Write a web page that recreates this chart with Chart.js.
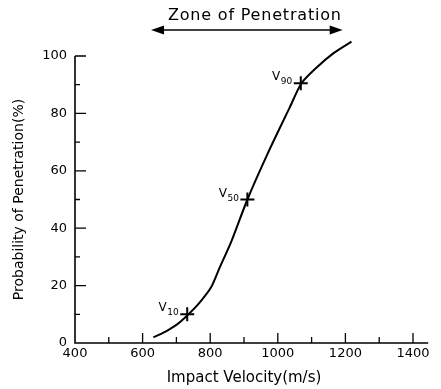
<!DOCTYPE html>
<html>
<head>
<meta charset="utf-8">
<title>Probability of Penetration</title>
<script src="https://cdn.jsdelivr.net/npm/chart.js@4"></script>
<style>
  html, body { margin: 0; padding: 0; background: #ffffff; }
  #wrap { width: 441px; height: 389px; }
</style>
</head>
<body>
<div id="wrap"><canvas id="chart" width="441" height="389"></canvas></div>
<script>
// Data
const velocity = [632, 665, 700, 732, 768, 803, 827, 863, 910, 970, 1035, 1070, 1115, 1165, 1218];
const probability = [2, 3.8, 6.3, 9.6, 14, 19.5, 26, 35.5, 50, 66, 82, 90.5, 96, 101, 105];

// Marked points V10, V50, V90
const markVelocity = [732, 910, 1068];
const markProbability = [10, 50, 90.5];
const markSubscripts = ['10', '50', '90'];

// Axis ticks
const xTickLabels = [400, 600, 800, 1000, 1200, 1400];
const xMinorTicks = [500, 700, 900, 1100, 1300];
const yTickLabels = [0, 20, 40, 60, 80, 100];
const yMinorTicks = [10, 30, 50, 70, 90];
const xAxisEnd = 1445;

// Zone of penetration arrow
const zoneStart = 625;
const zoneEnd = 1192;
const zoneLabel = 'Zone of Penetration';

const FONT = 'DejaVu Sans';
const INK = '#000000';

// Draws the axis lines, inward ticks, the V labels and the zone arrow
const decorPlugin = {
    id: 'decor',
    afterDatasetsDraw(chart) {
        const ctx = chart.ctx;
        const x = chart.scales.x;
        const y = chart.scales.y;
        const left = x.getPixelForValue(xTickLabels[0]);
        const bottom = y.getPixelForValue(0);

        ctx.save();
        ctx.strokeStyle = INK;
        ctx.lineWidth = 1.6;
        ctx.lineCap = 'butt';

        // axis lines
        ctx.beginPath();
        ctx.moveTo(left, y.getPixelForValue(100));
        ctx.lineTo(left, bottom);
        ctx.lineTo(x.getPixelForValue(xAxisEnd), bottom);
        ctx.stroke();

        // y ticks point right
        ctx.lineWidth = 1.3;
        ctx.beginPath();
        yTickLabels.slice(1).forEach(v => {
            const py = y.getPixelForValue(v);
            ctx.moveTo(left, py);
            ctx.lineTo(left + 11, py);
        });
        yMinorTicks.forEach(v => {
            const py = y.getPixelForValue(v);
            ctx.moveTo(left, py);
            ctx.lineTo(left + 5, py);
        });
        // x ticks point up
        xTickLabels.slice(1).forEach(v => {
            const px = x.getPixelForValue(v);
            ctx.moveTo(px, bottom);
            ctx.lineTo(px, bottom - 10);
        });
        xMinorTicks.forEach(v => {
            const px = x.getPixelForValue(v);
            ctx.moveTo(px, bottom);
            ctx.lineTo(px, bottom - 6);
        });
        ctx.stroke();

        // V labels with subscripts
        ctx.fillStyle = INK;
        ctx.textBaseline = 'alphabetic';
        markVelocity.forEach((v, i) => {
            const px = x.getPixelForValue(v);
            const py = y.getPixelForValue(markProbability[i]);
            ctx.font = '12px "' + FONT + '"';
            const wV = ctx.measureText('V').width;
            ctx.font = '9px "' + FONT + '"';
            const wS = ctx.measureText(markSubscripts[i]).width;
            const start = px - 9 - wV - wS;
            ctx.font = '12px "' + FONT + '"';
            ctx.fillText('V', start, py - 3);
            ctx.font = '9px "' + FONT + '"';
            ctx.fillText(markSubscripts[i], start + wV + 0.5, py + 1);
        });

        // zone arrow
        const ax1 = x.getPixelForValue(zoneStart);
        const ax2 = x.getPixelForValue(zoneEnd);
        const ay = 30;
        ctx.lineWidth = 1.5;
        ctx.beginPath();
        ctx.moveTo(ax1 + 8, ay);
        ctx.lineTo(ax2 - 8, ay);
        ctx.stroke();
        ctx.beginPath();
        ctx.moveTo(ax1, ay);
        ctx.lineTo(ax1 + 13, ay - 4.5);
        ctx.lineTo(ax1 + 13, ay + 4.5);
        ctx.closePath();
        ctx.moveTo(ax2, ay);
        ctx.lineTo(ax2 - 13, ay - 4.5);
        ctx.lineTo(ax2 - 13, ay + 4.5);
        ctx.closePath();
        ctx.fill();

        ctx.font = '16px "' + FONT + '"';
        ctx.letterSpacing = '0.8px';
        ctx.textAlign = 'center';
        ctx.textBaseline = 'middle';
        ctx.fillText(zoneLabel, (ax1 + ax2) / 2 + 8, 16);
        ctx.restore();
    }
};

new Chart(document.getElementById('chart'), {
    type: 'line',
    data: {
        datasets: [{
            data: velocity.map((v, i) => ({ x: v, y: probability[i] })),
            borderColor: INK,
            borderWidth: 2,
            pointRadius: 0,
            tension: 0.25,
            fill: false,
            clip: false
        }, {
            data: markVelocity.map((v, i) => ({ x: v, y: markProbability[i] })),
            showLine: false,
            pointStyle: 'cross',
            pointRadius: 7,
            borderColor: INK,
            borderWidth: 2,
            clip: false
        }]
    },
    options: {
        responsive: false,
        animation: false,
        layout: { padding: { left: 0, right: 28, top: 56, bottom: 0 } },
        plugins: {
            legend: { display: false },
            tooltip: { enabled: false }
        },
        scales: {
            x: {
                type: 'linear',
                min: 400,
                max: 1400,
                afterBuildTicks: s => { s.ticks = xTickLabels.map(v => ({ value: v })); },
                afterFit: s => { s.height = 46; },
                grid: { display: false, drawTicks: false },
                border: { display: false },
                ticks: {
                    color: INK,
                    padding: 3,
                    maxRotation: 0,
                    font: { family: FONT, size: 13 },
                    callback: v => String(v)
                },
                title: {
                    display: true,
                    text: 'Impact Velocity(m/s)',
                    color: INK,
                    padding: { top: 0, bottom: 2 },
                    font: { family: FONT, size: 15 }
                }
            },
            y: {
                min: 0,
                max: 100,
                afterBuildTicks: s => { s.ticks = yTickLabels.map(v => ({ value: v })); },
                afterFit: s => { s.width = 75; },
                grid: { display: false, drawTicks: false },
                border: { display: false },
                ticks: {
                    color: INK,
                    padding: 8,
                    font: { family: FONT, size: 13 },
                    callback: v => String(v)
                },
                title: {
                    display: true,
                    text: 'Probability of Penetration(%)',
                    color: INK,
                    padding: { top: 11, bottom: 0 },
                    font: { family: FONT, size: 14 }
                }
            }
        }
    },
    plugins: [decorPlugin]
});
</script>
</body>
</html>
